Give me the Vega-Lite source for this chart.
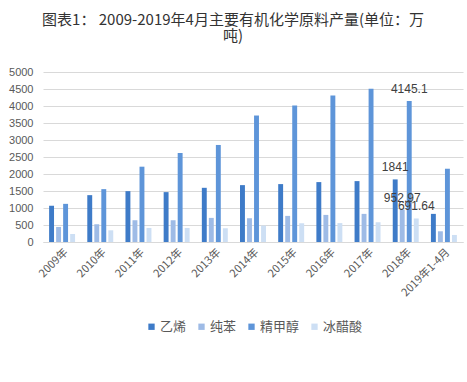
{
  "$schema": "https://vega.github.io/schema/vega-lite/v6.json",
  "width": 420,
  "height": 170,
  "autosize": {"type": "none"},
  "padding": {"left": 43, "top": 72, "right": 4, "bottom": 140},
  "background": "white",
  "title": {
    "text": ["图表1： 2009-2019年4月主要有机化学原料产量(单位：万", "吨)"],
    "font": "Noto Sans CJK SC",
    "fontSize": 15,
    "fontWeight": "normal",
    "color": "#333333",
    "anchor": "middle",
    "dx": -20,
    "offset": 22,
    "lineHeight": 16
  },
  "config": {
    "view": {"stroke": null},
    "font": "Noto Sans CJK SC"
  },
  "data": {
    "values": [
      {"year": "2009年", "product": "乙烯", "value": 1063},
      {"year": "2009年", "product": "纯苯", "value": 443},
      {"year": "2009年", "product": "精甲醇", "value": 1122},
      {"year": "2009年", "product": "冰醋酸", "value": 236},
      {"year": "2010年", "product": "乙烯", "value": 1378},
      {"year": "2010年", "product": "纯苯", "value": 522},
      {"year": "2010年", "product": "精甲醇", "value": 1555},
      {"year": "2010年", "product": "冰醋酸", "value": 344},
      {"year": "2011年", "product": "乙烯", "value": 1496},
      {"year": "2011年", "product": "纯苯", "value": 640},
      {"year": "2011年", "product": "精甲醇", "value": 2215},
      {"year": "2011年", "product": "冰醋酸", "value": 413},
      {"year": "2012年", "product": "乙烯", "value": 1467},
      {"year": "2012年", "product": "纯苯", "value": 640},
      {"year": "2012年", "product": "精甲醇", "value": 2618},
      {"year": "2012年", "product": "冰醋酸", "value": 413},
      {"year": "2013年", "product": "乙烯", "value": 1594},
      {"year": "2013年", "product": "纯苯", "value": 709},
      {"year": "2013年", "product": "精甲醇", "value": 2854},
      {"year": "2013年", "product": "冰醋酸", "value": 404},
      {"year": "2014年", "product": "乙烯", "value": 1673},
      {"year": "2014年", "product": "纯苯", "value": 699},
      {"year": "2014年", "product": "精甲醇", "value": 3720},
      {"year": "2014年", "product": "冰醋酸", "value": 482},
      {"year": "2015年", "product": "乙烯", "value": 1703},
      {"year": "2015年", "product": "纯苯", "value": 768},
      {"year": "2015年", "product": "精甲醇", "value": 4016},
      {"year": "2015年", "product": "冰醋酸", "value": 551},
      {"year": "2016年", "product": "乙烯", "value": 1762},
      {"year": "2016年", "product": "纯苯", "value": 797},
      {"year": "2016年", "product": "精甲醇", "value": 4311},
      {"year": "2016年", "product": "冰醋酸", "value": 556},
      {"year": "2017年", "product": "乙烯", "value": 1791},
      {"year": "2017年", "product": "纯苯", "value": 827},
      {"year": "2017年", "product": "精甲醇", "value": 4508},
      {"year": "2017年", "product": "冰醋酸", "value": 581},
      {"year": "2018年", "product": "乙烯", "value": 1841, "label": "1841"},
      {"year": "2018年", "product": "纯苯", "value": 952.97, "label": "952.97"},
      {"year": "2018年", "product": "精甲醇", "value": 4145.1, "label": "4145.1"},
      {"year": "2018年", "product": "冰醋酸", "value": 691.64, "label": "691.64"},
      {"year": "2019年1-4月", "product": "乙烯", "value": 827},
      {"year": "2019年1-4月", "product": "纯苯", "value": 315},
      {"year": "2019年1-4月", "product": "精甲醇", "value": 2155},
      {"year": "2019年1-4月", "product": "冰醋酸", "value": 207}
    ]
  },
  "encoding": {
    "x": {
      "field": "year",
      "type": "nominal",
      "sort": null,
      "scale": {"paddingInner": 0.32, "paddingOuter": 0.16},
      "axis": {
        "title": null,
        "labelAngle": -45,
        "labelFont": "Noto Sans CJK SC",
        "labelFontSize": 11,
        "labelColor": "#595959",
        "ticks": false,
        "domainColor": "#d9d9d9",
        "labelPadding": 4
      }
    },
    "xOffset": {
      "field": "product",
      "type": "nominal",
      "sort": ["乙烯", "纯苯", "精甲醇", "冰醋酸"],
      "scale": {"paddingInner": 0.3}
    },
    "y": {
      "field": "value",
      "type": "quantitative",
      "scale": {"domain": [0, 5000]},
      "axis": {
        "title": null,
        "values": [0, 500, 1000, 1500, 2000, 2500, 3000, 3500, 4000, 4500, 5000],
        "format": "d",
        "domain": false,
        "ticks": false,
        "gridColor": "#d9d9d9",
        "labelFont": "Liberation Sans",
        "labelFontSize": 11,
        "labelColor": "#595959",
        "labelPadding": 10
      }
    }
  },
  "layer": [
    {
      "mark": {"type": "bar"},
      "encoding": {
        "color": {
          "field": "product",
          "type": "nominal",
          "sort": ["乙烯", "纯苯", "精甲醇", "冰醋酸"],
          "scale": {
            "domain": ["乙烯", "纯苯", "精甲醇", "冰醋酸"],
            "range": ["#3e7bc8", "#9ebbe6", "#5e95d9", "#cddff4"]
          },
          "legend": {
            "title": null,
            "orient": "none",
            "direction": "horizontal",
            "legendX": 102,
            "legendY": 248,
            "symbolType": "square",
            "symbolSize": 40,
            "symbolStrokeWidth": 0,
            "labelFont": "Noto Sans CJK SC",
            "labelFontSize": 13,
            "labelColor": "#595959",
            "labelOffset": 2,
            "columnPadding": 8
          }
        }
      }
    },
    {
      "transform": [{"filter": "isValid(datum.label)"}],
      "mark": {
        "type": "text",
        "baseline": "bottom",
        "dy": -5,
        "font": "Liberation Sans",
        "fontSize": 12,
        "color": "#404040"
      },
      "encoding": {
        "text": {"field": "label"}
      }
    }
  ]
}
